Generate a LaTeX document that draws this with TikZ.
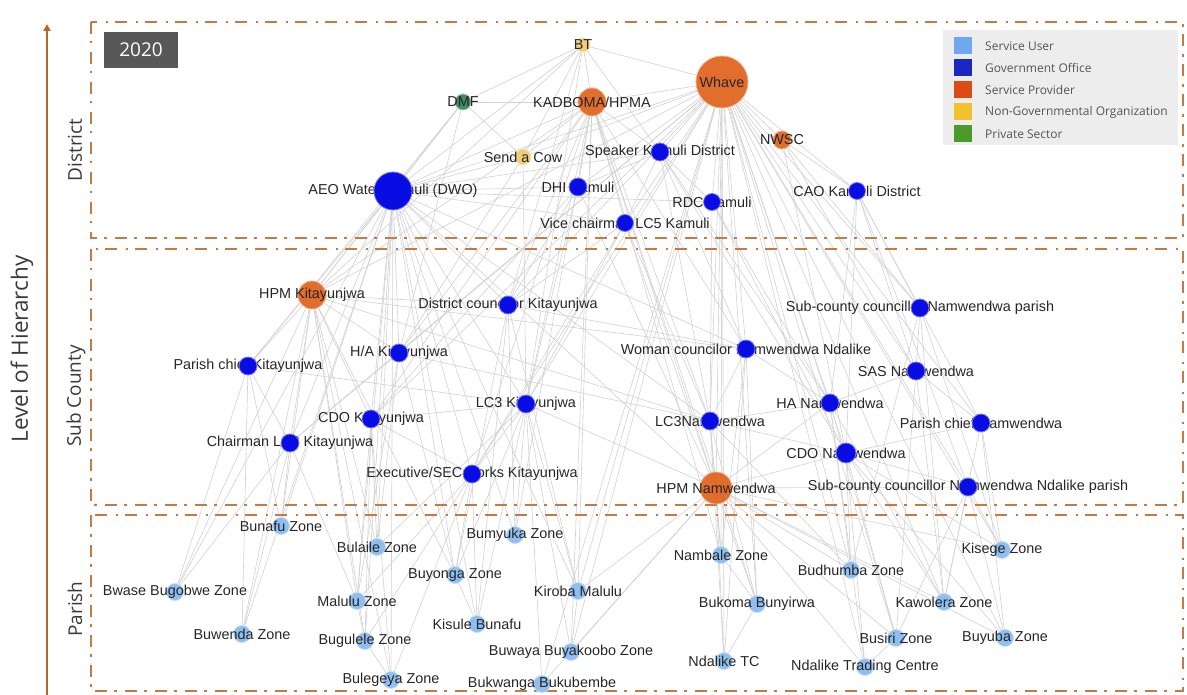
\documentclass[tikz,border=0pt]{standalone}
\usepackage{fontspec}
\setmainfont{Liberation Sans}
\newfontfamily\osans{Open Sans}
\usetikzlibrary{arrows.meta}
\pgfdeclarelayer{edges}
\pgfdeclarelayer{labels}
\pgfdeclarelayer{toplabels}
\pgfsetlayers{edges,labels,main,toplabels}
\definecolor{frame}{HTML}{C47A42}
\definecolor{axis}{HTML}{B5692E}
\definecolor{suser}{HTML}{7DB3EC}
\definecolor{govc}{HTML}{0A0CE4}
\definecolor{prov}{HTML}{DF5E17}
\definecolor{ngo}{HTML}{EFC463}
\definecolor{priv}{HTML}{2E8050}
\definecolor{lguser}{HTML}{6FA8EE}
\definecolor{lggov}{HTML}{1A28C0}
\definecolor{lgprov}{HTML}{DD4A15}
\definecolor{lgngo}{HTML}{F2C12E}
\definecolor{lgpriv}{HTML}{4C9A2A}
\definecolor{lbltext}{HTML}{262626}
\definecolor{axistext}{HTML}{3A3A3A}
\definecolor{yearbox}{HTML}{585858}
\definecolor{legendbg}{HTML}{EDEDED}
\definecolor{legendtext}{HTML}{555555}
\tikzset{
  base/.style={circle,inner sep=0pt,line width=0.8pt},
  govn/.style={base,fill=govc,draw=govc!55!white,minimum size=#1},
  govn/.default=18pt,
  provn/.style={base,fill=prov,fill opacity=0.9,draw=prov!50!white,minimum size=#1},
  provn/.default=28pt,
  usern/.style={base,fill=suser,fill opacity=0.85,draw=suser!45!white,minimum size=#1},
  usern/.default=17pt,
  ngon/.style={base,fill=ngo,fill opacity=0.85,draw=ngo!45!white,minimum size=#1},
  ngon/.default=15pt,
  privn/.style={base,fill=priv,fill opacity=0.9,draw=priv!45!white,minimum size=#1},
  privn/.default=16pt,
  lbl/.style={font=\fontsize{14.4}{16}\selectfont,text=lbltext,inner sep=0pt},
  edge/.style={draw=gray!36,line width=0.6pt},
  levelbox/.style={draw=frame,line width=2.6pt,dash pattern=on 12pt off 7pt on 2.5pt off 8.5pt},
  leveltxt/.style={rotate=90,font=\osans\fontsize{19}{21}\selectfont,text=axistext,inner sep=0pt},
  legsq/.style={minimum width=18pt,minimum height=17pt,inner sep=0pt},
  legtxt/.style={anchor=west,font=\osans\fontsize{12}{14}\selectfont,text=legendtext,inner sep=0pt},
}
\begin{document}
\begin{tikzpicture}[x=1pt,y=-1pt]
\useasboundingbox (0,0) rectangle (1187,695);
% frames
\draw[levelbox] (91,22) rectangle (1183,238);
\draw[levelbox] (91,249) rectangle (1183,505);
\draw[levelbox] (91,515) rectangle (1183,691);
% axis
\coordinate (axb) at (47,695);
\coordinate (axt) at (47,24);
\draw[axis,line width=2pt,-{Triangle[length=7pt,width=7pt]}] (axb) -- (axt);
\node[rotate=90,font=\osans\fontsize{22.5}{24}\selectfont,text=axistext,inner sep=0pt] (lvl) at (22,349) {Level of Hierarchy};
\node[leveltxt] (tdist) at (75,150) {District};
\node[leveltxt] (tsub) at (76,396) {Sub County};
\node[leveltxt] (tpar) at (75,609) {Parish};
% year
\node[fill=yearbox,text=white,minimum width=74pt,minimum height=36pt,inner sep=0pt,font=\osans\fontsize{19}{21}\selectfont] (year) at (141,50) {2020};
% legend
\node[fill=legendbg,minimum width=235pt,minimum height=115pt,inner sep=0pt] (legend) at (1060.5,87.5) {};
\node[legsq,fill=lguser] (lg1) at (963,46) {};
\node[legsq,fill=lggov] (lg2) at (963,68) {};
\node[legsq,fill=lgprov] (lg3) at (963,90) {};
\node[legsq,fill=lgngo] (lg4) at (963,112) {};
\node[legsq,fill=lgpriv] (lg5) at (963,134) {};
\node[legtxt] (lt1) at (985,46) {Service User};
\node[legtxt] (lt2) at (985,68) {Government Office};
\node[legtxt] (lt3) at (985,90) {Service Provider};
\node[legtxt] (lt4) at (985,112) {Non-Governmental Organization};
\node[legtxt] (lt5) at (985,134) {Private Sector};
% ---------- vertices: district
\node[ngon=14pt] (bt) at (583,45) {};
\node[privn] (dmf) at (463,102) {};
\node[provn=28pt] (kad) at (592,102) {};
\node[provn=52pt] (whave) at (722,82) {};
\node[provn=18pt] (nwsc) at (782,140) {};
\node[ngon=16pt] (cow) at (523,157) {};
\node[govn] (spk) at (660,152) {};
\node[govn=38pt] (aeo) at (393,191) {};
\node[govn] (dhi) at (578,187) {};
\node[govn=17pt] (rdc) at (712,202) {};
\node[govn=17pt] (cao) at (857,191) {};
\node[govn=17pt] (vice) at (625,223) {};
% sub county
\node[provn=28pt] (hpmk) at (312,295) {};
\node[govn] (dck) at (508,305) {};
\node[govn] (sccn) at (920,308) {};
\node[govn] (hak) at (399,353) {};
\node[govn] (pck) at (248,366) {};
\node[govn] (wcn) at (746,349) {};
\node[govn] (sas) at (916,371) {};
\node[govn] (lc3k) at (526,404) {};
\node[govn] (han) at (830,403) {};
\node[govn] (cdok) at (371,419) {};
\node[govn] (lc3n) at (710,421) {};
\node[govn] (pcn) at (981,423) {};
\node[govn] (chk) at (290,443) {};
\node[govn=20pt] (cdon) at (846,453) {};
\node[govn] (exk) at (472,474) {};
\node[provn=32pt] (hpmn) at (716,488) {};
\node[govn] (sccnn) at (968,487) {};
% parish
\node[usern] (bunafu) at (281,526) {};
\node[usern] (bulaile) at (377,547) {};
\node[usern] (bumyuka) at (515,535) {};
\node[usern] (buyonga) at (455,575) {};
\node[usern] (bwase) at (175,592) {};
\node[usern] (malulu) at (357,601) {};
\node[usern] (kiroba) at (578,591) {};
\node[usern] (kisule) at (477,624) {};
\node[usern] (buwenda) at (242,634) {};
\node[usern] (bugulele) at (365,641) {};
\node[usern] (buwaya) at (571,652) {};
\node[usern] (bulegeya) at (391,680) {};
\node[usern] (bukwanga) at (542,684) {};
\node[usern] (nambale) at (721,555) {};
\node[usern] (budhumba) at (851,570) {};
\node[usern] (kisege) at (1002,550) {};
\node[usern] (bukoma) at (757,604) {};
\node[usern] (kawolera) at (944,602) {};
\node[usern] (busiri) at (896,638) {};
\node[usern] (buyuba) at (1005,638) {};
\node[usern] (ndtc) at (724,661) {};
\node[usern] (ndtrc) at (865,667) {};
% ---------- labels of government offices (behind their circles)
\begin{pgfonlayer}{labels}
\node[lbl] (spk-l) at (spk) {Speaker Kamuli District};
\node[lbl] (aeo-l) at (aeo) {AEO Water Kamuli (DWO)};
\node[lbl] (dhi-l) at (dhi) {DHI Kamuli};
\node[lbl] (rdc-l) at (rdc) {RDC Kamuli};
\node[lbl] (cao-l) at (cao) {CAO Kamuli District};
\node[lbl] (vice-l) at (vice) {Vice chairman LC5 Kamuli};
\node[lbl] (dck-l) at (dck) {District councilor Kitayunjwa};
\node[lbl] (sccn-l) at (sccn) {Sub-county councillor Namwendwa parish};
\node[lbl] (hak-l) at (hak) {H/A Kitayunjwa};
\node[lbl] (pck-l) at (pck) {Parish chief Kitayunjwa};
\node[lbl] (wcn-l) at (wcn) {Woman councilor Namwendwa Ndalike};
\node[lbl] (sas-l) at (sas) {SAS Namwendwa};
\node[lbl] (lc3k-l) at (lc3k) {LC3 Kitayunjwa};
\node[lbl] (han-l) at (han) {HA Namwendwa};
\node[lbl] (cdok-l) at (cdok) {CDO Kitayunjwa};
\node[lbl] (lc3n-l) at (lc3n) {LC3Namwendwa};
\node[lbl] (pcn-l) at (pcn) {Parish chief Namwendwa};
\node[lbl] (chk-l) at (chk) {Chairman LC3 Kitayunjwa};
\node[lbl] (cdon-l) at (cdon) {CDO Namwendwa};
\node[lbl] (exk-l) at (exk) {Executive/SEC works Kitayunjwa};
\node[lbl] (sccnn-l) at (sccnn) {Sub-county councillor Namwendwa Ndalike parish};
\end{pgfonlayer}
% ---------- labels over the lighter circles
\begin{pgfonlayer}{toplabels}
\node[lbl] (bt-l) at (bt) {BT};
\node[lbl] (dmf-l) at (dmf) {DMF};
\node[lbl] (kad-l) at (kad) {KADBOMA/HPMA};
\node[lbl] (whave-l) at (whave) {Whave};
\node[lbl] (nwsc-l) at (nwsc) {NWSC};
\node[lbl] (cow-l) at (cow) {Send a Cow};
\node[lbl] (hpmk-l) at (hpmk) {HPM Kitayunjwa};
\node[lbl] (hpmn-l) at (hpmn) {HPM Namwendwa};
\node[lbl] (bunafu-l) at (bunafu) {Bunafu Zone};
\node[lbl] (bulaile-l) at (bulaile) {Bulaile Zone};
\node[lbl] (bumyuka-l) at (bumyuka) {Bumyuka Zone};
\node[lbl] (buyonga-l) at (buyonga) {Buyonga Zone};
\node[lbl] (bwase-l) at (bwase) {Bwase Bugobwe Zone};
\node[lbl] (malulu-l) at (malulu) {Malulu Zone};
\node[lbl] (kiroba-l) at (kiroba) {Kiroba Malulu};
\node[lbl] (kisule-l) at (kisule) {Kisule Bunafu};
\node[lbl] (buwenda-l) at (buwenda) {Buwenda Zone};
\node[lbl] (bugulele-l) at (bugulele) {Bugulele Zone};
\node[lbl] (buwaya-l) at (buwaya) {Buwaya Buyakoobo Zone};
\node[lbl] (bulegeya-l) at (bulegeya) {Bulegeya Zone};
\node[lbl] (bukwanga-l) at (bukwanga) {Bukwanga Bukubembe};
\node[lbl] (nambale-l) at (nambale) {Nambale Zone};
\node[lbl] (budhumba-l) at (budhumba) {Budhumba Zone};
\node[lbl] (kisege-l) at (kisege) {Kisege Zone};
\node[lbl] (bukoma-l) at (bukoma) {Bukoma Bunyirwa};
\node[lbl] (kawolera-l) at (kawolera) {Kawolera Zone};
\node[lbl] (busiri-l) at (busiri) {Busiri Zone};
\node[lbl] (buyuba-l) at (buyuba) {Buyuba Zone};
\node[lbl] (ndtc-l) at (ndtc) {Ndalike TC};
\node[lbl] (ndtrc-l) at (ndtrc) {Ndalike Trading Centre};
\end{pgfonlayer}
% ---------- edges
\begin{pgfonlayer}{edges}
\foreach \a/\b in {bt/kad,bt/whave,bt/cow,bt/dmf,bt/aeo,bt/spk,bt/hpmk,bt/dck,bt/lc3k,
 dmf/kad,dmf/aeo,dmf/cow,dmf/hak,dmf/pck,dmf/hpmk,
 kad/whave,kad/aeo,kad/cow,kad/spk,kad/dhi,kad/vice,kad/hpmk,kad/hpmn,kad/lc3k,kad/exk,kad/cdok,kad/hak,kad/lc3n,kad/bumyuka,kad/kiroba,kad/nambale,kad/bukoma,kad/dck,kad/wcn,kad/buwaya,
 whave/aeo,whave/nwsc,whave/spk,whave/rdc,whave/cao,whave/vice,whave/dhi,whave/cow,whave/hpmk,whave/hpmn,whave/dck,whave/lc3k,whave/lc3n,whave/han,whave/cdon,whave/sccn,whave/sccnn,whave/wcn,whave/pcn,whave/sas,whave/exk,whave/cdok,whave/hak,whave/chk,whave/ndtrc,whave/busiri,whave/kawolera,whave/budhumba,whave/bukoma,whave/nambale,whave/kisege,whave/buyuba,whave/ndtc,whave/kiroba,whave/buwaya,whave/bukwanga,
 aeo/dhi,aeo/spk,aeo/vice,aeo/cow,aeo/hpmk,aeo/hpmn,aeo/dck,aeo/hak,aeo/pck,aeo/cdok,aeo/chk,aeo/exk,aeo/lc3k,aeo/lc3n,aeo/wcn,aeo/buyonga,aeo/bulaile,aeo/malulu,aeo/bugulele,aeo/bulegeya,aeo/kisule,aeo/bunafu,aeo/bwase,aeo/buwenda,aeo/bumyuka,aeo/kiroba,aeo/rdc,
 nwsc/cao,nwsc/sccn,nwsc/sas,nwsc/cdon,
 spk/dhi,spk/rdc,spk/vice,spk/lc3n,spk/wcn,spk/han,spk/cdon,
 cao/sccn,cao/sas,cao/pcn,cao/han,cao/cdon,cao/sccnn,
 vice/lc3n,vice/lc3k,vice/hpmn,vice/exk,vice/dck,
 dhi/lc3k,dhi/dck,dhi/hpmn,dhi/cdok,
 rdc/lc3n,rdc/cdon,rdc/han,cow/hak,cow/lc3k,
 hpmk/pck,hpmk/chk,hpmk/cdok,hpmk/hak,hpmk/dck,lc3k/cdok,lc3k/exk,hak/chk,lc3n/han,lc3n/cdon,hpmn/lc3n,hpmn/cdon,hpmn/han,wcn/lc3n,sas/han,pcn/cdon,sccnn/cdon,sccn/sas,pcn/sas,chk/pck,exk/cdok,hpmn/sccnn,wcn/han,
 hpmk/lc3n,hpmk/wcn,dck/wcn,pck/lc3k,hak/lc3n,lc3k/hpmn,
 hpmk/bunafu,hpmk/bwase,hpmk/buwenda,hpmk/malulu,hpmk/bulaile,hpmk/bugulele,hpmk/bulegeya,hpmk/buyonga,
 hpmn/nambale,hpmn/bukoma,hpmn/ndtc,hpmn/ndtrc,hpmn/budhumba,hpmn/busiri,hpmn/kawolera,hpmn/kiroba,hpmn/buwaya,hpmn/bukwanga,hpmn/kisege,hpmn/buyuba,
 lc3k/buyonga,lc3k/bumyuka,lc3k/kisule,lc3k/kiroba,lc3k/buwaya,lc3k/bukwanga,lc3k/bulaile,
 exk/bulegeya,exk/bugulele,exk/kisule,exk/buyonga,exk/malulu,
 cdok/malulu,cdok/bugulele,cdok/bulaile,cdok/bulegeya,
 chk/bunafu,chk/bwase,chk/buwenda,chk/malulu,
 pck/bwase,pck/buwenda,pck/bunafu,
 hak/bulaile,hak/buyonga,hak/malulu,
 dck/bumyuka,dck/buyonga,dck/kiroba,dck/kisule,
 cdon/budhumba,cdon/busiri,cdon/kawolera,cdon/buyuba,cdon/kisege,cdon/ndtrc,
 sccnn/kisege,sccnn/buyuba,sccnn/kawolera,sccnn/busiri,
 pcn/kisege,pcn/buyuba,pcn/kawolera,
 han/budhumba,han/busiri,han/ndtrc,han/kawolera,
 sas/kawolera,sas/busiri,
 lc3n/nambale,lc3n/bukoma,lc3n/ndtc,lc3n/budhumba,
 wcn/bukoma,wcn/ndtc,wcn/nambale,
 sccn/kisege,sccn/kawolera,sccn/budhumba,
 bukoma/ndtc,nambale/bukoma,busiri/ndtrc,kiroba/buwaya,bugulele/bulegeya,malulu/bugulele,buyonga/kisule}
 \draw[edge] (\a) -- (\b);
\end{pgfonlayer}
\end{tikzpicture}
\end{document}
